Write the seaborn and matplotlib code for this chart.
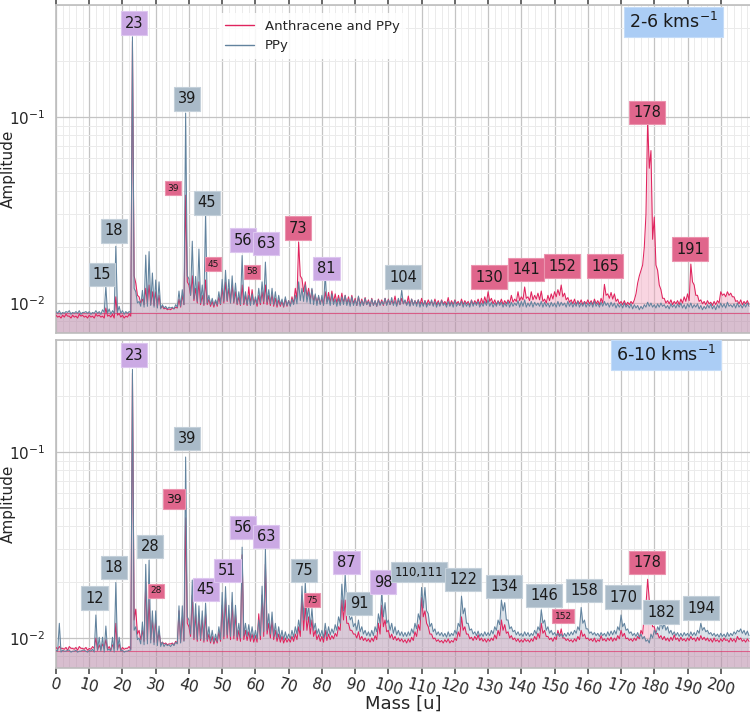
import numpy as np
import pandas as pd
import matplotlib
matplotlib.use("Agg")
import matplotlib.pyplot as plt
from matplotlib.lines import Line2D
import seaborn as sns
from matplotlib.ticker import MultipleLocator, LogLocator, NullFormatter

sns.set_theme(style="whitegrid")
plt.rcParams["font.family"] = ["DejaVu Sans"]

# ---------------------------------------------------------------- data
# integer mass channels (u); amplitudes below are in units of 1e-3
mass = np.arange(0, 209)
series_names = ["Anthracene and PPy", "PPy"]

# ---- 2-6 km/s panel -------------------------------------------------
# PPy, value at each integer mass
top_ppy_peak = [
    9.0, 9.1, 8.9, 9.0, 9.1, 8.9, 9.0, 9.1, 8.9, 9.0,
    9.0, 8.9, 9.1, 9.0, 9.2, 12.3, 9.3, 9.1, 20.2, 9.6,
    9.1, 9.0, 9.0, 270, 11.5, 10.2, 11.7, 18.1, 18.9, 14.5,
    13.3, 13.0, 9.8, 9.6, 9.5, 9.5, 9.8, 11.6, 11.8, 105,
    13.5, 21.5, 13.9, 19.5, 12.5, 30.5, 11.0, 10.6, 10.4, 11.5,
    13.4, 15.0, 13.4, 14.0, 12.8, 11.5, 18.0, 11.5, 11.0, 11.2,
    10.8, 12.0, 13.0, 16.6, 11.8, 12.0, 11.5, 11.0, 10.5, 10.8,
    10.3, 10.5, 11.0, 13.0, 12.0, 12.5, 11.5, 12.0, 11.2, 11.0,
    11.0, 14.3, 10.8, 11.2, 10.5, 10.6, 10.8, 11.0, 10.5, 10.8,
    10.4, 10.9, 10.3, 10.6, 10.2, 10.5, 10.3, 10.4, 10.2, 10.6,
    10.4, 10.7, 10.3, 10.6, 11.7, 10.4, 10.2, 10.5, 10.3, 10.4,
    10.1, 10.3, 10.0, 10.4, 10.2, 10.1, 10.3, 10.0, 10.2, 10.1,
    10.3, 10.0, 10.2, 10.1, 10.0, 10.3, 10.1, 10.2, 10.0, 10.2,
    10.4, 10.1, 10.0, 10.2, 10.1, 10.0, 10.2, 10.1, 10.0, 10.3,
    10.2, 10.4, 10.0, 10.2, 10.1, 10.0, 10.2, 10.1, 10.0, 10.1,
    10.0, 10.2, 10.1, 10.0, 10.2, 10.1, 10.0, 10.2, 10.0, 10.1,
    10.0, 10.1, 10.2, 10.0, 10.1, 10.2, 10.0, 10.1, 10.0, 9.9,
    9.9, 10.0, 9.8, 9.9, 9.8, 9.7, 9.6, 9.8, 10.1, 10.0,
    9.8, 9.9, 10.0, 9.8, 9.7, 9.9, 9.8, 9.9, 10.0, 9.8,
    9.9, 10.0, 9.8, 9.9, 9.7, 9.6, 9.8, 9.9, 9.7, 9.8,
    10.0, 9.9, 10.1, 9.8, 9.9, 10.0, 9.8, 9.9, 10.0,
]
# PPy, value half a unit after each integer mass
top_ppy_valley = [
    8.8, 8.7, 8.8, 8.9, 8.7, 8.8, 8.8, 8.7, 8.9, 8.8,
    8.7, 8.8, 8.8, 8.7, 8.9, 8.8, 8.7, 8.8, 8.9, 8.8,
    8.7, 8.8, 8.9, 12.0, 10.0, 9.6, 9.5, 9.6, 9.7, 9.5,
    9.4, 9.3, 9.4, 9.3, 9.4, 9.3, 9.5, 9.6, 9.8, 14.0,
    11.0, 10.5, 10.2, 10.0, 9.8, 10.0, 9.8, 9.7, 9.8, 9.9,
    10.2, 10.3, 10.0, 10.1, 9.9, 9.8, 10.0, 9.8, 9.7, 9.8,
    9.9, 10.0, 10.2, 10.1, 9.9, 9.8, 9.7, 9.8, 9.6, 9.7,
    9.6, 9.8, 9.9, 10.3, 10.2, 10.1, 9.9, 9.8, 9.7, 9.8,
    9.7, 9.9, 9.7, 9.8, 9.6, 9.7, 9.8, 9.7, 9.6, 9.7,
    9.7, 9.6, 9.7, 9.8, 9.6, 9.7, 9.6, 9.7, 9.8, 9.7,
    9.8, 9.7, 9.6, 9.8, 9.9, 9.7, 9.6, 9.7, 9.6, 9.5,
    9.6, 9.5, 9.7, 9.6, 9.5, 9.6, 9.7, 9.5, 9.6, 9.5,
    9.6, 9.7, 9.5, 9.6, 9.5, 9.6, 9.7, 9.5, 9.6, 9.7,
    9.6, 9.5, 9.6, 9.7, 9.5, 9.6, 9.5, 9.6, 9.7, 9.5,
    9.6, 9.5, 9.6, 9.5, 9.7, 9.6, 9.5, 9.6, 9.5, 9.6,
    9.5, 9.6, 9.7, 9.5, 9.6, 9.5, 9.6, 9.5, 9.6, 9.5,
    9.6, 9.5, 9.6, 9.5, 9.6, 9.7, 9.5, 9.6, 9.4, 9.5,
    9.4, 9.5, 9.4, 9.3, 9.4, 9.2, 9.3, 9.5, 9.6, 9.5,
    9.4, 9.5, 9.6, 9.4, 9.3, 9.5, 9.4, 9.5, 9.4, 9.3,
    9.5, 9.4, 9.5, 9.3, 9.2, 9.3, 9.4, 9.3, 9.2, 9.4,
    9.5, 9.4, 9.6, 9.5, 9.4, 9.5, 9.4, 9.5, 9.6,
]
# Anthracene and PPy
top_anth_peak = [
    8.6, 8.5, 8.6, 8.7, 8.5, 8.6, 8.5, 8.7, 8.6, 8.5,
    8.6, 8.5, 8.7, 8.6, 8.5, 9.4, 8.6, 8.7, 10.8, 8.8,
    8.6, 8.5, 8.7, 255, 12.8, 10.8, 10.5, 12.0, 12.5, 11.5,
    11.5, 11.0, 9.6, 9.4, 9.3, 9.4, 9.5, 10.5, 11.0, 38.0,
    12.5, 14.0, 12.0, 13.0, 11.0, 13.3, 10.5, 10.2, 10.3, 10.8,
    12.0, 13.0, 12.0, 12.5, 11.5, 10.8, 12.5, 11.0, 12.2, 11.8,
    10.5, 11.0, 11.5, 12.5, 11.0, 11.2, 10.6, 10.4, 10.2, 10.5,
    10.3, 10.8, 12.0, 21.3, 13.5, 13.0, 12.0, 11.8, 11.0, 10.8,
    10.6, 11.5, 11.4, 11.6, 11.2, 11.0, 11.3, 11.0, 10.8, 11.0,
    10.6, 10.8, 10.5, 10.7, 10.4, 10.6, 10.3, 10.5, 10.4, 10.6,
    10.5, 10.3, 10.9, 10.4, 10.6, 10.3, 10.9, 10.5, 10.3, 10.4,
    10.6, 10.3, 10.4, 10.2, 10.5, 10.3, 10.4, 10.2, 10.7, 10.3,
    10.4, 10.2, 10.5, 10.3, 10.2, 10.4, 10.3, 10.5, 10.6, 10.8,
    11.5, 10.6, 10.4, 10.3, 10.5, 10.3, 10.4, 11.0, 10.5, 11.5,
    10.8, 12.2, 10.8, 11.5, 11.0, 11.3, 11.6, 10.5, 11.0, 11.2,
    11.5, 11.8, 12.5, 11.3, 10.7, 10.4, 10.5, 10.3, 10.4, 10.2,
    10.4, 10.3, 10.5, 10.3, 10.6, 12.6, 11.2, 11.4, 11.2, 10.5,
    10.2, 10.3, 10.1, 10.2, 10.4, 12.8, 15.0, 20.0, 96.0, 66.0,
    29.0, 15.0, 11.8, 10.6, 10.3, 10.4, 10.2, 10.3, 10.5, 10.8,
    11.2, 16.2, 12.5, 11.0, 10.4, 10.2, 10.3, 10.1, 10.2, 10.3,
    11.5, 11.2, 11.5, 11.3, 10.8, 10.3, 10.4, 10.2, 10.3,
]
top_anth_valley = [
    8.4, 8.3, 8.4, 8.5, 8.3, 8.4, 8.3, 8.5, 8.4, 8.3,
    8.4, 8.3, 8.5, 8.4, 8.3, 8.5, 8.4, 8.3, 8.6, 8.4,
    8.3, 8.4, 8.5, 14.0, 11.0, 10.0, 9.8, 9.9, 9.8, 9.7,
    9.5, 9.4, 9.3, 9.2, 9.2, 9.3, 9.4, 9.5, 9.8, 13.0,
    11.0, 10.3, 10.0, 9.8, 9.7, 9.8, 9.6, 9.5, 9.6, 9.8,
    10.0, 10.2, 10.0, 10.0, 9.8, 9.7, 9.8, 9.7, 9.8, 9.9,
    9.6, 9.8, 9.9, 9.8, 9.7, 9.6, 9.5, 9.6, 9.5, 9.6,
    9.7, 9.9, 10.5, 14.0, 11.5, 10.8, 10.4, 10.2, 10.0, 9.9,
    9.8, 10.2, 10.0, 10.1, 10.0, 9.9, 10.0, 9.9, 9.8, 9.9,
    9.7, 9.8, 9.7, 9.8, 9.6, 9.7, 9.6, 9.8, 9.7, 9.8,
    9.8, 9.9, 9.7, 9.8, 9.9, 9.8, 9.7, 9.8, 9.9, 9.8,
    9.7, 9.8, 9.9, 9.7, 9.8, 9.7, 9.9, 9.8, 9.7, 9.8,
    9.9, 9.7, 9.8, 9.9, 9.7, 9.8, 9.9, 9.8, 9.9, 10.0,
    10.2, 9.9, 9.8, 9.9, 9.8, 9.9, 10.0, 10.1, 10.2, 10.3,
    10.4, 10.6, 10.3, 10.4, 10.5, 10.4, 10.2, 10.0, 10.3, 10.5,
    10.8, 11.0, 10.8, 10.4, 10.1, 9.9, 9.8, 9.9, 9.8, 9.9,
    9.9, 9.8, 9.9, 9.8, 10.0, 11.0, 10.6, 10.5, 10.2, 9.9,
    9.8, 9.7, 9.8, 9.9, 11.2, 14.0, 16.0, 30.0, 53.0, 22.0,
    16.0, 12.5, 10.6, 10.0, 9.9, 9.8, 9.9, 9.8, 10.0, 10.2,
    10.3, 13.0, 11.0, 10.2, 9.9, 9.8, 9.9, 9.7, 9.8, 10.0,
    11.0, 10.8, 11.0, 10.8, 10.2, 9.9, 9.8, 9.9, 9.8,
]

# ---- 6-10 km/s panel ------------------------------------------------
bot_ppy_peak = [
    8.6, 12.0, 8.6, 8.5, 8.6, 8.5, 8.6, 8.5, 8.6, 8.5,
    8.6, 8.7, 13.3, 10.1, 10.1, 11.6, 8.7, 10.1, 19.9, 10.1,
    8.6, 8.5, 8.6, 278, 11.5, 10.0, 12.2, 24.9, 26.2, 14.0,
    14.0, 11.6, 9.5, 9.3, 9.2, 9.3, 9.5, 14.9, 14.9, 94.0,
    12.5, 20.5, 15.3, 14.9, 14.0, 15.4, 11.5, 11.0, 10.5, 11.5,
    17.6, 18.9, 15.0, 17.6, 15.0, 12.0, 30.8, 12.0, 11.8, 11.5,
    11.0, 12.5, 19.0, 30.2, 13.5, 13.8, 12.0, 11.5, 11.0, 10.8,
    10.5, 11.0, 11.5, 12.5, 19.0, 20.0, 15.0, 14.4, 12.0, 11.2,
    11.0, 12.0, 11.5, 11.2, 11.8, 13.0, 19.5, 22.0, 14.0, 13.0,
    12.0, 12.5, 11.5, 11.0, 10.8, 11.0, 11.5, 13.5, 17.8, 15.5,
    12.5, 12.0, 11.5, 11.0, 10.8, 10.7, 10.8, 11.2, 12.0, 13.5,
    18.7, 18.7, 13.5, 12.0, 11.2, 10.8, 10.7, 10.6, 10.8, 10.6,
    11.0, 12.0, 16.8, 14.5, 12.0, 11.2, 10.8, 10.9, 10.6, 10.8,
    10.7, 11.0, 11.5, 12.5, 16.0, 15.5, 12.5, 11.5, 11.0, 10.8,
    10.6, 10.8, 10.7, 10.6, 11.0, 11.5, 14.2, 12.5, 11.5, 11.0,
    10.7, 10.6, 10.5, 10.6, 10.7, 10.8, 11.0, 11.5, 14.6, 12.5,
    11.2, 10.8, 10.7, 10.6, 10.7, 10.6, 10.8, 10.9, 11.0, 11.5,
    13.3, 12.0, 11.2, 10.8, 10.6, 10.7, 10.5, 10.2, 9.8, 10.5,
    11.0, 11.5, 12.4, 12.0, 11.5, 11.0, 10.8, 10.7, 10.6, 10.7,
    10.6, 10.8, 10.7, 11.0, 12.0, 11.4, 11.0, 10.7, 10.6, 10.5,
    10.6, 10.5, 10.7, 10.6, 10.8, 11.0, 11.2, 11.0, 10.9,
]
bot_ppy_valley = [
    8.5, 8.4, 8.5, 8.6, 8.4, 8.5, 8.4, 8.5, 8.6, 8.4,
    8.5, 8.4, 8.6, 8.5, 8.4, 8.6, 8.5, 8.4, 8.6, 8.5,
    8.4, 8.5, 8.6, 11.0, 9.8, 9.3, 9.2, 9.3, 9.4, 9.2,
    9.1, 9.0, 9.0, 9.1, 9.0, 9.1, 9.3, 9.4, 9.6, 13.0,
    10.5, 10.0, 9.8, 9.9, 9.7, 9.8, 9.6, 9.5, 9.6, 9.8,
    10.2, 10.4, 10.2, 10.3, 10.1, 10.0, 10.3, 10.2, 10.0, 9.9,
    9.9, 10.3, 10.8, 11.0, 10.5, 10.2, 10.0, 9.9, 9.8, 9.9,
    9.9, 10.1, 10.5, 11.0, 12.5, 12.5, 11.5, 11.0, 10.5, 10.2,
    10.0, 10.2, 10.4, 10.6, 11.0, 12.0, 14.0, 15.0, 12.5, 11.5,
    11.0, 10.8, 10.5, 10.3, 10.2, 10.3, 10.8, 12.0, 13.0, 12.0,
    11.0, 10.6, 10.4, 10.3, 10.2, 10.2, 10.3, 10.6, 11.2, 12.5,
    14.5, 14.0, 11.5, 10.8, 10.4, 10.3, 10.2, 10.1, 10.2, 10.3,
    10.5, 11.5, 13.5, 12.0, 11.0, 10.5, 10.3, 10.2, 10.2, 10.3,
    10.3, 10.5, 11.0, 11.8, 14.0, 12.5, 11.2, 10.8, 10.4, 10.3,
    10.2, 10.3, 10.2, 10.3, 10.5, 11.0, 12.0, 11.0, 10.6, 10.4,
    10.3, 10.2, 10.1, 10.2, 10.3, 10.4, 10.6, 11.0, 12.0, 11.2,
    10.6, 10.4, 10.3, 10.2, 10.3, 10.2, 10.3, 10.4, 10.5, 11.0,
    11.5, 11.0, 10.6, 10.3, 10.2, 10.1, 9.9, 9.6, 9.4, 10.0,
    10.5, 11.0, 11.2, 11.0, 10.6, 10.4, 10.3, 10.2, 10.2, 10.3,
    10.2, 10.3, 10.3, 10.6, 11.0, 10.8, 10.5, 10.3, 10.2, 10.1,
    10.2, 10.1, 10.2, 10.3, 10.5, 10.8, 10.6, 10.4, 10.3,
]
bot_anth_peak = [
    8.9, 9.0, 8.8, 8.9, 9.0, 8.8, 8.9, 9.0, 8.8, 8.9,
    8.8, 9.0, 10.0, 9.2, 9.3, 9.8, 9.0, 9.2, 12.0, 9.3,
    8.9, 8.8, 9.0, 265, 14.3, 11.0, 11.0, 20.0, 16.0, 12.5,
    12.5, 10.8, 9.5, 9.4, 9.3, 9.4, 9.6, 14.0, 13.0, 44.3,
    11.5, 17.0, 13.5, 13.0, 12.5, 13.5, 10.5, 10.2, 10.0, 10.8,
    15.0, 16.5, 13.5, 15.5, 13.5, 11.0, 28.0, 11.0, 10.8, 10.5,
    10.3, 13.5, 17.0, 24.9, 12.0, 12.5, 11.0, 10.5, 10.2, 10.0,
    9.9, 10.2, 10.5, 11.5, 17.0, 15.0, 13.0, 12.5, 11.0, 10.4,
    10.2, 11.0, 10.5, 10.3, 10.6, 11.5, 16.0, 16.0, 12.0, 11.0,
    10.5, 10.8, 10.2, 10.0, 9.9, 10.0, 10.3, 12.0, 15.0, 12.5,
    11.0, 10.5, 10.2, 10.0, 9.9, 9.8, 9.9, 10.1, 10.8, 11.8,
    16.5, 14.0, 11.5, 10.5, 10.0, 9.8, 9.7, 9.8, 9.9, 9.7,
    10.0, 10.8, 13.0, 11.5, 10.5, 10.1, 10.2, 10.4, 10.0, 9.9,
    9.9, 10.0, 10.4, 11.0, 12.5, 11.8, 10.8, 10.3, 10.0, 9.9,
    9.8, 9.9, 9.8, 9.9, 10.2, 10.6, 12.0, 11.0, 10.2, 10.0,
    10.1, 11.0, 11.2, 10.0, 9.9, 9.8, 9.9, 10.2, 11.0, 10.5,
    10.0, 9.9, 10.0, 9.8, 10.3, 9.9, 10.0, 10.1, 10.0, 10.3,
    11.0, 10.6, 10.0, 9.9, 10.0, 10.2, 11.0, 13.5, 20.7, 13.5,
    11.5, 10.6, 10.3, 10.2, 10.0, 10.1, 10.4, 10.0, 10.1, 9.9,
    10.0, 10.2, 10.0, 10.1, 10.3, 10.1, 10.0, 9.9, 10.0, 9.8,
    9.9, 10.0, 9.8, 10.0, 9.9, 10.2, 10.0, 9.8, 9.9,
]
bot_anth_valley = [
    8.7, 8.8, 8.7, 8.6, 8.8, 8.7, 8.6, 8.8, 8.7, 8.6,
    8.7, 8.8, 8.6, 8.7, 8.8, 8.7, 8.6, 8.8, 8.7, 8.6,
    8.7, 8.8, 8.7, 12.5, 10.5, 9.8, 9.6, 9.7, 9.8, 9.5,
    9.4, 9.3, 9.3, 9.2, 9.3, 9.2, 9.4, 9.5, 9.7, 12.0,
    10.2, 9.8, 9.6, 9.7, 9.5, 9.6, 9.4, 9.3, 9.4, 9.6,
    9.9, 10.0, 9.8, 9.9, 9.7, 9.6, 9.8, 9.7, 9.6, 9.5,
    9.5, 9.8, 10.2, 10.5, 10.0, 9.8, 9.6, 9.5, 9.4, 9.5,
    9.5, 9.6, 9.8, 10.2, 11.0, 11.0, 10.5, 10.2, 9.8, 9.6,
    9.5, 9.7, 9.8, 9.9, 10.2, 11.0, 12.5, 12.0, 11.0, 10.5,
    10.0, 9.8, 9.7, 9.6, 9.5, 9.6, 9.8, 10.5, 11.5, 10.8,
    10.0, 9.8, 9.7, 9.6, 9.5, 9.4, 9.5, 9.7, 10.2, 11.0,
    13.0, 12.0, 10.5, 9.9, 9.6, 9.5, 9.4, 9.5, 9.4, 9.5,
    9.7, 10.2, 11.0, 10.5, 9.9, 9.7, 9.8, 9.7, 9.6, 9.5,
    9.6, 9.7, 9.9, 10.3, 11.0, 10.6, 10.0, 9.8, 9.6, 9.5,
    9.5, 9.6, 9.5, 9.6, 9.8, 10.0, 10.6, 10.2, 9.8, 9.6,
    9.8, 10.2, 10.0, 9.7, 9.6, 9.5, 9.6, 9.8, 10.2, 9.9,
    9.7, 9.6, 9.5, 9.6, 9.7, 9.6, 9.7, 9.6, 9.7, 9.9,
    10.2, 9.9, 9.7, 9.6, 9.7, 9.9, 10.5, 15.0, 16.0, 11.5,
    10.5, 10.0, 9.8, 9.7, 9.6, 9.7, 9.8, 9.6, 9.7, 9.6,
    9.7, 9.8, 9.6, 9.7, 9.8, 9.7, 9.6, 9.5, 9.6, 9.5,
    9.6, 9.7, 9.5, 9.6, 9.5, 9.8, 9.6, 9.5, 9.6,
]

# horizontal reference level drawn in each panel (amplitude)
ref_level = {"top": 0.0088, "bottom": 0.00855}

# peak labels: (text, style)
top_labels = [("23", "mix"), ("39", "ppy"), ("39", "anth_s"), ("45", "ppy"),
              ("45", "anth_s"), ("18", "ppy"), ("15", "ppy"), ("56", "mix"),
              ("63", "mix"), ("58", "anth_s"), ("73", "anth"), ("81", "mix"),
              ("104", "ppy"), ("130", "anth"), ("141", "anth"), ("152", "anth"),
              ("165", "anth"), ("178", "anth"), ("191", "anth")]
bot_labels = [("23", "mix"), ("39", "ppy"), ("39", "anth_m"), ("28", "ppy"),
              ("28", "anth_s"), ("18", "ppy"), ("12", "ppy"), ("45", "mix"),
              ("51", "mix"), ("56", "mix"), ("63", "mix"), ("75", "ppy"),
              ("75", "anth_s"), ("87", "mix"), ("91", "ppy"), ("98", "mix"),
              ("110,111", "ppy_m"), ("122", "ppy"), ("134", "ppy"), ("146", "ppy"),
              ("152", "anth_s"), ("158", "ppy"), ("170", "ppy"), ("178", "anth"),
              ("182", "ppy"), ("194", "ppy")]
panel_titles = ["2-6 kms$^{-1}$", "6-10 kms$^{-1}$"]

# ------------------------------------------------------- layout / style
top_label_pos = [(23.5, 0.320), (39.4, 0.125), (35.2, 0.0415), (45.4, 0.0345),
                 (47.2, 0.0162), (17.5, 0.0244), (13.8, 0.0143), (56.3, 0.0218),
                 (63.2, 0.0208), (59.0, 0.0147), (72.8, 0.0253), (81.3, 0.0154),
                 (104.4, 0.0138), (130.3, 0.0138), (141.4, 0.0152), (152.3, 0.0158),
                 (165.2, 0.0158), (177.9, 0.106), (190.8, 0.0195)]
bot_label_pos = [(23.5, 0.332), (39.4, 0.118), (35.5, 0.0556), (28.3, 0.0311),
                 (30.1, 0.0179), (17.5, 0.0240), (11.7, 0.0164), (45.1, 0.0183),
                 (51.5, 0.0231), (56.3, 0.0394), (63.2, 0.0352), (74.6, 0.0231),
                 (77.0, 0.0160), (87.3, 0.0255), (91.2, 0.0154), (98.4, 0.0200),
                 (109.2, 0.0226), (122.5, 0.0207), (134.8, 0.0190), (146.9, 0.0170),
                 (152.6, 0.0131), (158.9, 0.0181), (170.6, 0.0166), (177.9, 0.0255),
                 (182.1, 0.0138), (194.1, 0.0145)]
title_pos = [(185.7, 0.324), (183.6, 0.332)]

PINK = "#e0245e"
BLUE = "#62839e"
box_style = {
    "mix": dict(fc="#cba9e4", ec="#ddc6ef", size=10.5),
    "ppy": dict(fc="#a9bac8", ec="#c4d0da", size=10.5),
    "ppy_m": dict(fc="#a9bac8", ec="#c4d0da", size=8.5),
    "anth": dict(fc="#e0668c", ec="#eb93ae", size=10.5),
    "anth_m": dict(fc="#e0668c", ec="#eb93ae", size=9),
    "anth_s": dict(fc="#e0668c", ec="#eb93ae", size=6.5),
}

YMIN, YMAX = 0.0069, 0.40
XMAX = 208.8


def long_frame(anth_pk, anth_vl, ppy_pk, ppy_vl):
    rows = []
    for name, pk, vl in [(series_names[0], anth_pk, anth_vl),
                         (series_names[1], ppy_pk, ppy_vl)]:
        x = np.empty(2 * len(mass))
        y = np.empty(2 * len(mass))
        x[0::2] = mass
        x[1::2] = mass + 0.5
        y[0::2] = np.asarray(pk) * 1e-3
        y[1::2] = np.asarray(vl) * 1e-3
        rows.append(pd.DataFrame({"Mass": x, "Amplitude": y, "Sample": name}))
    return pd.concat(rows, ignore_index=True)


frames = [long_frame(top_anth_peak, top_anth_valley, top_ppy_peak, top_ppy_valley),
          long_frame(bot_anth_peak, bot_anth_valley, bot_ppy_peak, bot_ppy_valley)]

fig = plt.figure(figsize=(7.5, 7.16), dpi=100)
W, H = 750, 716
ax_top = fig.add_axes([56 / W, 1 - 333 / H, (W - 56) / W, 328 / H])
ax_bot = fig.add_axes([56 / W, 1 - 668 / H, (W - 56) / W, 328 / H])

for i, (ax, df) in enumerate(zip([ax_top, ax_bot], frames)):
    lvl = ref_level["top" if i == 0 else "bottom"]
    ax.set_yscale("log")
    ax.axhspan(YMIN, lvl, color="#b98aa8", alpha=0.55, lw=0, zorder=1)
    for name, col, fcol, a in [(series_names[0], PINK, "#f2a3bd", 0.45),
                               (series_names[1], BLUE, "#9fb4c6", 0.35)]:
        d = df[df["Sample"] == name]
        ax.fill_between(d["Mass"], lvl, d["Amplitude"], color=fcol, alpha=a,
                        lw=0, zorder=2)
    ax.axhline(lvl, color=PINK, lw=0.8, alpha=0.6, zorder=3)
    sns.lineplot(data=df, x="Mass", y="Amplitude", hue="Sample",
                 hue_order=series_names, palette=[PINK, BLUE],
                 estimator=None, sort=False, lw=0.75, ax=ax,
                 legend=False, zorder=4)
    ax.set_xlim(0, XMAX)
    ax.set_ylim(YMIN, YMAX)
    ax.xaxis.set_major_locator(MultipleLocator(10))
    ax.xaxis.set_minor_locator(MultipleLocator(2))
    ax.yaxis.set_major_locator(LogLocator(base=10))
    ax.yaxis.set_minor_locator(LogLocator(base=10, subs=np.arange(2, 10)))
    ax.yaxis.set_minor_formatter(NullFormatter())
    ax.grid(which="major", color="#c4c4c4", lw=0.9)
    ax.grid(which="minor", color="#ebebeb", lw=0.7)
    ax.set_axisbelow(True)
    for s in ["left", "bottom", "top"]:
        ax.spines[s].set_color("#bdbdbd")
        ax.spines[s].set_linewidth(1.2)
    ax.spines["right"].set_visible(False)
    ax.set_ylabel("Amplitude", fontsize=11)
    ax.yaxis.set_label_coords(-0.058, 0.5)
    ax.tick_params(axis="y", labelsize=11, pad=2)

    labels = top_labels if i == 0 else bot_labels
    poss = top_label_pos if i == 0 else bot_label_pos
    for (txt, kind), (m, v) in zip(labels, poss):
        st = box_style[kind]
        ax.text(m, v, txt, fontsize=st["size"], ha="center", va="center",
                color="#1a1a1a", zorder=6,
                bbox=dict(boxstyle="square,pad=0.28", fc=st["fc"], ec=st["ec"], lw=0.8))
    tm, tv = title_pos[i]
    ax.text(tm, tv, panel_titles[i], fontsize=12.5, ha="center", va="center",
            color="#1a1a1a", zorder=6,
            bbox=dict(boxstyle="square,pad=0.3", fc="#abcdf5", ec="#c4dcf8", lw=0.8))

# top panel: tick marks on its upper edge, no x labels
ax_top.tick_params(axis="x", which="major", bottom=False, top=True, direction="out",
                   length=5, color="#555555", labelbottom=False)
ax_top.set_xlabel("")
handles = [Line2D([0], [0], color=PINK, lw=1.0), Line2D([0], [0], color=BLUE, lw=1.0)]
ax_top.legend(handles, series_names, loc="upper left", bbox_to_anchor=(0.225, 0.995),
              frameon=True, facecolor="white", edgecolor="none", framealpha=0.85,
              fontsize=9.5, handlelength=2.2, borderpad=0.5)

# bottom panel x axis
ax_bot.tick_params(axis="x", which="major", bottom=True, direction="out",
                   length=4, color="#555555", labelsize=11, pad=2)
for t in ax_bot.get_xticklabels():
    t.set_rotation(-15)
ax_bot.set_xlabel("Mass [u]", fontsize=13)
ax_bot.xaxis.set_label_coords(0.5, -0.082)

fig.savefig("out.png", dpi=100)
